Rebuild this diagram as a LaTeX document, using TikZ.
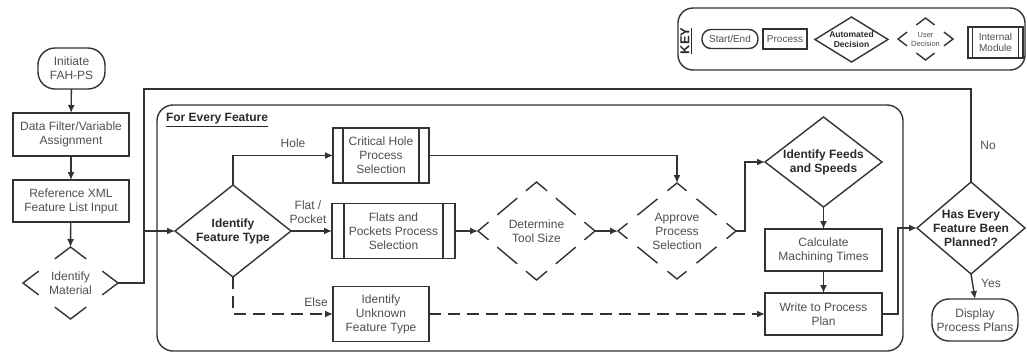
\documentclass[tikz,border=0pt]{standalone}
\usepackage{fontspec}
\setmainfont{Liberation Sans}
\usetikzlibrary{shapes.geometric,arrows.meta,calc}
\definecolor{ln}{HTML}{333333}
\definecolor{tx}{HTML}{505050}
\definecolor{bt}{HTML}{2A2A2A}
\tikzset{
  every node/.style={font=\fontsize{12}{14}\selectfont, text=tx, align=center, inner sep=0pt, outer sep=0pt},
  line/.style={draw=ln, line width=1.4pt},
  arr/.style={line, -{Latex[length=8pt,width=7pt]}},
  dsh/.style={dash pattern=on 12pt off 7pt},
  proc/.style 2 args={draw=ln, line width=1.4pt, rectangle, minimum width=#1pt, minimum height=#2pt},
  mod/.style 2 args={proc={#1}{#2}},
  term/.style 2 args={draw=ln, line width=1.4pt, rectangle, rounded corners=17pt, minimum width=#1pt, minimum height=#2pt},
  ad/.style 2 args={draw=ln, line width=1.4pt, diamond, minimum width=#1pt, minimum height=#2pt},
  ud/.style 2 args={diamond, minimum width=#1pt, minimum height=#2pt},
  bold/.style={font=\bfseries\fontsize{12}{14}\selectfont, text=bt},
  lbl/.style={font=\fontsize{12}{14}\selectfont, text=tx},
  small/.style={font=\fontsize{10}{11.5}\selectfont},
}
\newcommand\chev[2]{%
  \draw[line] ($(#1.north)!#2!(#1.west)$) -- (#1.north) -- ($(#1.north)!#2!(#1.east)$);
  \draw[line] ($(#1.south)!#2!(#1.west)$) -- (#1.south) -- ($(#1.south)!#2!(#1.east)$);
  \draw[line] ($(#1.west)!#2!(#1.north)$) -- (#1.west) -- ($(#1.west)!#2!(#1.south)$);
  \draw[line] ($(#1.east)!#2!(#1.north)$) -- (#1.east) -- ($(#1.east)!#2!(#1.south)$);}
\newcommand\mids[1]{%
  \draw[line] ($(#1.north)!0.33!(#1.west)$) -- ($(#1.north)!0.67!(#1.west)$);
  \draw[line] ($(#1.north)!0.33!(#1.east)$) -- ($(#1.north)!0.67!(#1.east)$);
  \draw[line] ($(#1.south)!0.33!(#1.west)$) -- ($(#1.south)!0.67!(#1.west)$);
  \draw[line] ($(#1.south)!0.33!(#1.east)$) -- ($(#1.south)!0.67!(#1.east)$);}
\newcommand\modlines[2]{%
  \draw[line] ([xshift=#2pt]#1.north west) -- ([xshift=#2pt]#1.south west);
  \draw[line] ([xshift=-#2pt]#1.north east) -- ([xshift=-#2pt]#1.south east);}
\begin{document}
\begin{tikzpicture}[x=1pt,y=-1pt]
\useasboundingbox[fill=white] (0,0) rectangle (1027,354);

% ---- key ----
\node[draw=ln, line width=1.4pt, rounded corners=15pt, minimum width=347pt, minimum height=62pt] (keybox) at (851.5,39) {};
\node[rotate=90, font=\bfseries\fontsize{13}{13}\selectfont, text=bt] (keyt) at (686,41) {\underline{KEY}};
\node[draw=ln, line width=1.4pt, rounded corners=9pt, minimum width=56pt, minimum height=19pt, small] (kse) at (730,39) {Start/End};
\node[proc={44}{20}, small] (kpr) at (785,39) {Process};
\node[ad={73}{45}] (kad) at (851.5,39.5) {};
\node[font=\bfseries\fontsize{8.5}{9.5}\selectfont, text=bt] (kadt) at (kad) {Automated\\Decision};
\node[ud={55}{42}] (kud) at (925.5,39) {};
\chev{kud}{0.33}
\node[font=\fontsize{7.5}{9}\selectfont] (kudt) at (kud) {User\\Decision};
\node[mod={55}{31}, small] (kmod) at (995.5,42.5) {Internal\\Module};
\modlines{kmod}{4.5}

% ---- left column ----
\node[term={67}{41}] (init) at (71.5,68.5) {Initiate\\FAH-PS};
\node[proc={116}{43}] (filt) at (71,134.5) {Data Filter/Variable\\Assignment};
\node[proc={116}{42}] (ref) at (71,201) {Reference XML\\Feature List Input};
\node[ud={95}{72}] (mat) at (70.5,283) {};
\chev{mat}{0.33}
\node (matt) at (mat) {Identify\\Material};

\draw[arr] (init) -- (filt);
\draw[arr] (filt) -- (ref);
\draw[arr] (ref) -- (mat.north);

% ---- big loop box ----
\node[draw=ln, line width=1.4pt, rounded corners=16pt, minimum width=746pt, minimum height=246pt] (loopbox) at (530,228) {};
\node[bold, anchor=west] (fef) at (166,120) {\underline{For Every Feature}};

\node[ad={116}{92}] (ift) at (233,231) {};
\node[bold] (iftt) at (ift) {Identify\\Feature Type};
\node[mod={96}{55}] (hole) at (381,155.5) {Critical Hole\\Process\\Selection};
\modlines{hole}{10}
\node[mod={123}{55}] (flat) at (393.5,231) {Flats and\\Pockets Process\\Selection};
\modlines{flat}{12}
\node[proc={96}{55}] (unk) at (381,314) {Identify\\Unknown\\Feature Type};

\node[ud={117}{98}] (det) at (536.5,231) {};
\chev{det}{0.18}\mids{det}
\node (dett) at (det) {Determine\\Tool Size};
\node[ud={118}{96}] (app) at (677,231) {};
\chev{app}{0.16}\mids{app}
\node (appt) at (app) {Approve\\Process\\Selection};

\node[ad={117}{90}] (ifs) at (823.5,162) {};
\node[bold] (ifst) at (ifs) {Identify Feeds\\and Speeds};
\node[proc={117}{42}] (calc) at (823.5,250) {Calculate\\Machining Times};
\node[proc={117}{42}] (wpp) at (823.5,314) {Write to Process\\Plan};

\node[ad={108}{92}] (has) at (971,228) {};
\node[bold] (hast) at (has) {Has Every\\Feature Been\\Planned?};
\node[term={86}{42}] (disp) at (975,320) {Display\\Process Plans};

% ---- connectors ----
\coordinate (jn) at (144,231);
\coordinate (tl) at (144,89);
\draw[line] (has.north) |- (tl) -- (jn);
\draw[line] (mat.east) -| (jn);
\draw[arr] (jn) -- (ift.west);

\draw[arr] (ift.north) |- (hole.west);
\node[lbl] (lhole) at (293,143) {Hole};
\draw[arr] (ift.east) -- (flat.west);
\node[lbl] (lflat) at (308,212.5) {Flat /\\Pocket};
\draw[arr, dsh] (ift.south) |- (unk.west);
\node[lbl] (lelse) at (316,302) {Else};

\draw[arr] (hole.east) -| (app.north);
\draw[arr] (flat.east) -- (det.west);
\draw[arr] (det.east) -- (app.west);
\draw[arr] (app.east) -- ++(9,0) |- (ifs.west);
\draw[arr] (ifs.south) -- (calc.north);
\draw[arr] (calc.south) -- (wpp.north);
\draw[arr, dsh] (unk.east) -- (wpp.west);
\draw[arr] (wpp.east) -- ++(16,0) |- (has.west);
\draw[arr] (has.south) -- (disp.north);
\node[lbl] (lyes) at (991,283) {Yes};
\node[lbl] (lno) at (988,145) {No};
\end{tikzpicture}
\end{document}
